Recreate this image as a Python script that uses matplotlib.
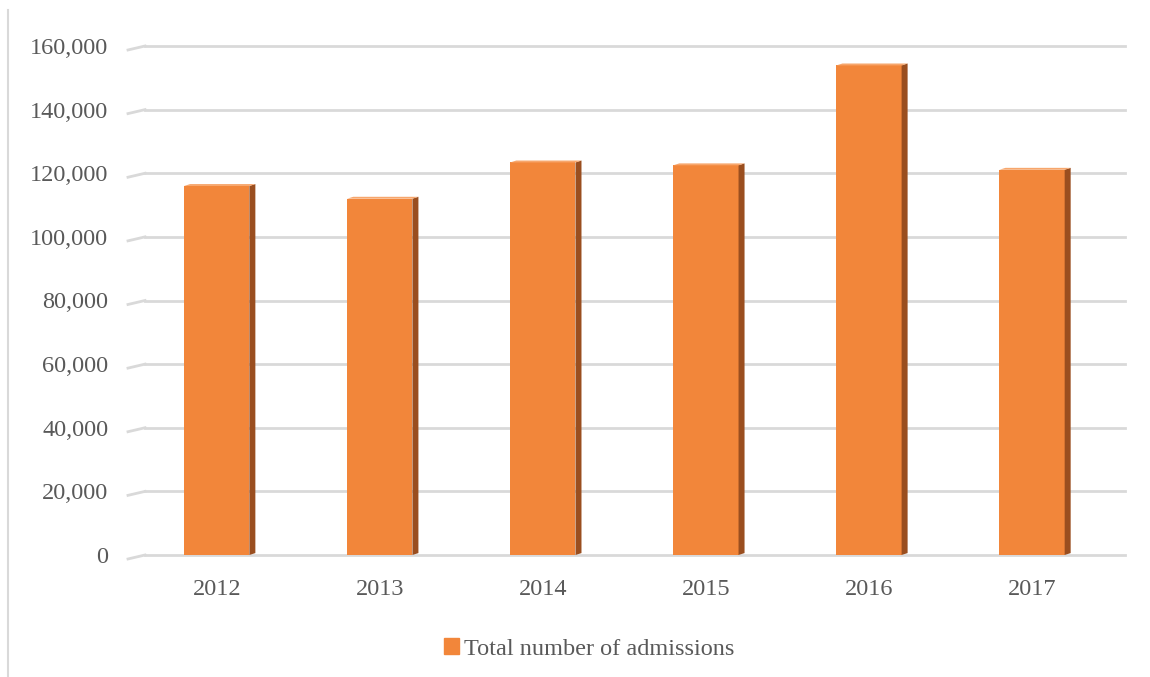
import matplotlib.pyplot as plt
from matplotlib.lines import Line2D
from matplotlib.patches import Patch

years = ['2012', '2013', '2014', '2015', '2016', '2017']
admissions = [116000, 112000, 123400, 122500, 153900, 121100]
yticks = [0, 20000, 40000, 60000, 80000, 100000, 120000, 140000, 160000]

front = '#F2863A'
side = '#9A4E1F'
top = '#F7A66C'
grid = '#D9D9D9'
txt = '#595959'

plt.rcParams['font.family'] = ['Liberation Serif', 'DejaVu Serif']

fig = plt.figure(figsize=(11.5, 6.77), dpi=100)
ax = fig.add_axes([145 / 1150, (677 - 555) / 677, 980 / 1150, (555 - 46) / 677])

x = list(range(len(years)))
bw = 0.4
dx = 6 / 163.0
dy = 600

# gridlines with the little slanted start on the left
for t in yticks:
    ax.plot([-0.44, 5.57], [t, t], color=grid, lw=2, zorder=0, clip_on=False)
    ax.plot([-0.44 - 17 / 163.0, -0.44], [t - 1250, t], color=grid, lw=2,
            zorder=0, clip_on=False)

ax.bar(x, admissions, width=bw, color=front, zorder=3)
for xi, v in zip(x, admissions):
    r = xi + bw / 2
    l = xi - bw / 2
    ax.fill([r, r + dx, r + dx, r], [0, dy, v + dy, v], color=side, zorder=3, lw=0)
    ax.fill([l, r, r + dx, l + dx], [v, v, v + dy, v + dy], color=top, zorder=3, lw=0)

ax.set_xlim(-0.44, 5.57)
ax.set_ylim(0, 160000)
ax.set_xticks(x)
ax.set_xticklabels(years)
ax.set_yticks(yticks)
ax.set_yticklabels(['{:,}'.format(t) for t in yticks])
ax.tick_params(axis='both', length=0, labelsize=17.5, labelcolor=txt)
ax.tick_params(axis='y', pad=26.5)
ax.tick_params(axis='x', pad=17)
for s in ax.spines.values():
    s.set_visible(False)

fig.legend(handles=[Patch(color=front)], labels=['Total number of admissions'],
           loc='center', bbox_to_anchor=(589 / 1150, 1 - 649 / 677), frameon=False,
           fontsize=17.5, labelcolor=txt, handlelength=0.6, handleheight=0.6,
           handletextpad=0.2)

fig.add_artist(Line2D([8 / 1150, 8 / 1150], [0, 1 - 10 / 677], color='#D9D9D9', lw=1.5))

fig.savefig('out.png', dpi=100)
